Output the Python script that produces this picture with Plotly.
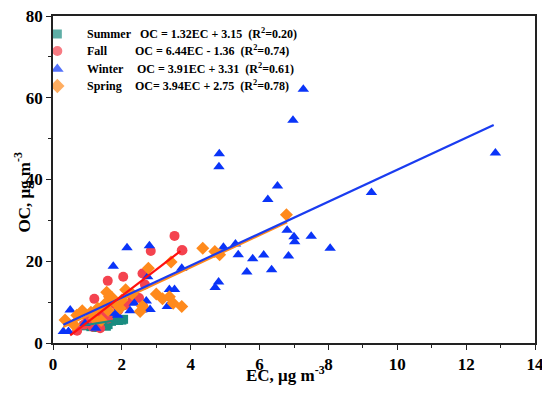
import plotly.graph_objects as go

# ---------------- data ----------------
seasons = ["Summer", "Fall", "Winter", "Spring"]
equations = ["OC = 1.32EC + 3.15", "OC = 6.44EC - 1.36", "OC = 3.91EC + 3.31", "OC= 3.94EC + 2.75"]
r2_values = ["0.20", "0.74", "0.61", "0.78"]
slopes = [1.32, 6.44, 3.91, 3.94]
intercepts = [3.15, -1.36, 3.31, 2.75]
fit_x_start = [0.9, 0.5, 0.3, 0.3]
fit_x_end = [2.1, 3.7, 12.8, 6.8]

summer_ec = [0.9, 1.0, 1.1, 1.2, 1.25, 1.3, 1.35, 1.45, 1.5, 1.6, 1.7, 1.8, 1.9, 2.0, 2.05, 1.15, 1.55]
summer_oc = [4.2, 4.6, 4.0, 5.0, 3.8, 4.4, 5.2, 4.8, 5.6, 4.5, 5.3, 5.8, 5.5, 5.6, 5.8, 4.9, 4.1]

fall_ec = [3.53, 3.76, 2.84, 2.6, 2.04, 1.59, 1.2, 2.1, 2.62, 2.67, 1.15, 1.37, 0.9, 1.6, 1.9,
           1.8, 2.3, 1.4, 1.0, 2.5, 0.7, 3.74]
fall_oc = [26.2, 22.7, 22.5, 17.0, 16.2, 15.2, 10.8, 9.3, 8.9, 14.3, 4.0, 3.6, 4.5, 6.0, 8.0,
           9.5, 10.5, 7.0, 5.5, 11.0, 3.0, 22.7]

winter_ec = [12.85, 9.25, 8.05, 7.27, 6.97, 6.52, 6.24, 6.8, 7.0, 7.02, 7.5, 4.83, 4.82, 4.95, 5.3,
             5.38, 5.8, 6.12, 5.63, 6.35, 6.84, 4.81, 4.71, 3.74, 2.15, 2.8, 1.75, 2.75, 3.38, 3.53,
             2.71, 3.32, 2.82, 2.36, 2.24, 1.88, 0.5, 0.3, 0.45, 0.93, 1.24, 2.58, 1.8]
winter_oc = [46.5, 36.8, 23.2, 62.1, 54.5, 38.4, 35.1, 27.6, 26.0, 24.8, 26.1, 46.3, 43.1, 23.4, 24.2,
             21.6, 20.6, 21.5, 17.4, 17.9, 21.3, 14.9, 13.6, 18.3, 23.3, 23.8, 18.8, 16.2, 13.1, 13.1,
             10.3, 8.9, 8.2, 9.7, 7.9, 6.8, 8.1, 2.8, 2.8, 4.8, 3.6, 8.1, 7.3]

spring_ec = [6.78, 4.35, 4.7, 4.84, 3.74, 3.43, 2.77, 2.11, 1.56, 1.64, 1.72, 3.18, 3.38, 3.49, 2.53,
             1.95, 0.85, 0.69, 0.35, 1.3, 1.5, 1.8, 1.1, 2.3, 2.0, 1.2, 0.6, 1.4, 2.6, 1.6, 3.0]
spring_oc = [31.4, 23.2, 22.4, 21.6, 8.9, 19.8, 18.3, 13.0, 12.4, 11.3, 11.1, 10.8, 11.3, 9.7, 7.7,
             8.5, 7.9, 6.8, 5.6, 8.5, 9.5, 10.0, 7.5, 12.0, 10.5, 6.0, 4.5, 5.5, 9.0, 8.0, 12.0]

x_ticks = [0, 2, 4, 6, 8, 10, 12, 14]
y_ticks = [0, 20, 40, 60, 80]

# ---------------- styles ----------------
marker_colors = ["#1a8c80", "#f4434f", "#0a34f8", "#ff8a1c"]
line_colors = ["#1a8c80", "#ff1010", "#1a3cf0", "#ff8a1c"]
symbols = ["square", "circle", "triangle-up", "diamond"]
sizes = [9, 10, 10, 10]
legend_sizes = [9, 10, 11, 11]
font_family = "Liberation Serif, Times New Roman, serif"
NB = "\u00a0"

# legend layout (paper coords of the plot area)
row_y = [0.945, 0.893, 0.838, 0.786]
swatch_x = 0.009
name_x = 0.066
eq_x = [0.176, 0.167, 0.171, 0.167]

points = [(summer_ec, summer_oc), (fall_ec, fall_oc), (winter_ec, winter_oc), (spring_ec, spring_oc)]

fig = go.Figure()
for i, s in enumerate(seasons):
    ex, oc = points[i]
    fig.add_trace(go.Scatter(
        x=ex, y=oc, mode="markers", name=s, showlegend=False,
        marker=dict(symbol=symbols[i], size=sizes[i], color=marker_colors[i], line=dict(width=0)),
    ))

# regression lines
for i in [3, 2, 0, 1]:
    xs = [fit_x_start[i], fit_x_end[i]]
    ys = [slopes[i] * v + intercepts[i] for v in xs]
    fig.add_trace(go.Scatter(
        x=xs, y=ys, mode="lines", showlegend=False,
        line=dict(color=line_colors[i], width=2.2),
    ))

# legend swatches on an overlay axis spanning the plot area (0..1)
fig.add_trace(go.Scatter(
    x=[swatch_x] * 4, y=row_y, mode="markers", showlegend=False, hoverinfo="skip",
    xaxis="x2", yaxis="y2",
    marker=dict(symbol=symbols, size=legend_sizes, color=marker_colors, line=dict(width=0)),
))

legend_font = dict(family=font_family, size=12, color="black", weight="bold")
for i in range(4):
    fig.add_annotation(
        x=name_x, y=row_y[i], xref="paper", yref="paper", xanchor="left", yanchor="middle",
        text=seasons[i], showarrow=False, font=legend_font,
    )
    fig.add_annotation(
        x=eq_x[i], y=row_y[i], xref="paper", yref="paper", xanchor="left", yanchor="middle",
        text=f"{equations[i]}{NB}{NB}(R<sup>2</sup>={r2_values[i]})", showarrow=False,
        font=legend_font,
    )

# axis titles
title_font = dict(family=font_family, size=17, color="black", weight="bold")
fig.add_annotation(x=0.483, y=0, xref="paper", yref="paper", xanchor="center", yanchor="middle",
                   yshift=-31, text="EC, μg m<sup>-3</sup>", showarrow=False, font=title_font)
fig.add_annotation(x=0, y=0.46, xref="paper", yref="paper", xanchor="center", yanchor="middle",
                   xshift=-31, textangle=-90, text="OC, μg m<sup>-3</sup>", showarrow=False, font=title_font)

axis_common = dict(
    showline=True, linecolor="#222", linewidth=1.5, mirror=True, automargin=False,
    showgrid=False, zeroline=False, ticks="outside", ticklen=5, tickwidth=1.3, tickcolor="#222",
    ticklabeloverflow="allow",
    tickfont=dict(family=font_family, size=17, color="black", weight="bold"),
)
fig.update_xaxes(
    range=[0, 14], tickvals=x_ticks,
    minor=dict(dtick=1, ticks="outside", ticklen=3, tickwidth=1, tickcolor="#222"),
    **axis_common,
)
fig.update_yaxes(
    range=[0, 80], tickvals=y_ticks,
    minor=dict(dtick=10, ticks="outside", ticklen=3, tickwidth=1, tickcolor="#222"),
    **axis_common,
)

fig.update_layout(
    width=542, height=386,
    margin=dict(l=45, r=15, t=8, b=51),
    paper_bgcolor="white", plot_bgcolor="white",
    showlegend=False,
    xaxis2=dict(overlaying="x", range=[0, 1], visible=False, fixedrange=True),
    yaxis2=dict(overlaying="y", range=[0, 1], visible=False, fixedrange=True),
)

fig.write_html("out.html")
